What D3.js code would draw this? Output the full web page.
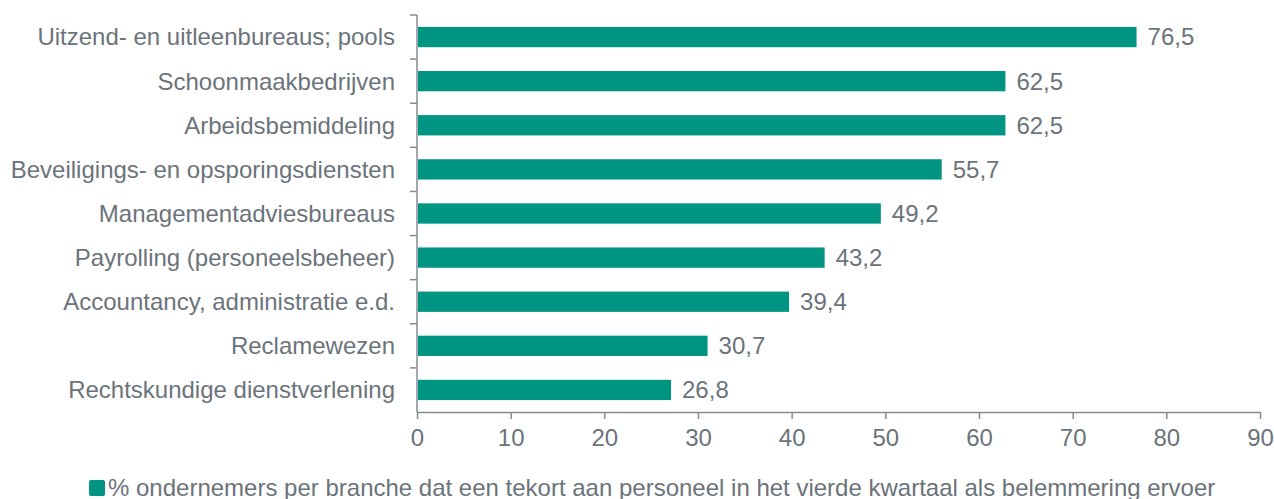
<!DOCTYPE html>
<html>
<head>
<meta charset="utf-8">
<script src="https://cdn.jsdelivr.net/npm/d3@7"></script>
<style>
  body { margin: 0; background: #fff; }
  svg { display: block; font-family: "Liberation Sans", Arial, sans-serif; }
</style>
</head>
<body>
<svg class="chart" width="1274" height="499"></svg>
<script>
// data
var categories = [
    "Uitzend- en uitleenbureaus; pools",
    "Schoonmaakbedrijven",
    "Arbeidsbemiddeling",
    "Beveiligings- en opsporingsdiensten",
    "Managementadviesbureaus",
    "Payrolling (personeelsbeheer)",
    "Accountancy, administratie e.d.",
    "Reclamewezen",
    "Rechtskundige dienstverlening"
];
var values = [76.5, 62.5, 62.5, 55.7, 49.2, 43.2, 39.4, 30.7, 26.8];
var xTicks = [0, 10, 20, 30, 40, 50, 60, 70, 80, 90];
var legendLabel = "% ondernemers per branche dat een tekort aan personeel in het vierde kwartaal als belemmering ervoer";

var barColor = "#009483";
var axisColor = "#858b93";
var textColor = "#6b737b";
var fontSize = "24px";

var canvas = d3.select(".chart");

// plot area
var plotLeft = 417, plotRight = 1260, plotTop = 15, plotBottom = 412;

var x = d3.scaleLinear().domain([0, 90]).range([plotLeft, plotRight]);
var y = d3.scaleBand().domain(categories).range([plotTop, plotBottom]).paddingInner(0.54).paddingOuter(0.27);

// bars
canvas.selectAll("rect.bar")
    .data(values)
    .enter().append("rect")
    .attr("class", "bar")
    .attr("x", x(0) + 1)
    .attr("y", function (d, i) { return y(categories[i]); })
    .attr("width", function (d) { return x(d) - x(0) + 2; })
    .attr("height", y.bandwidth())
    .attr("fill", barColor);

// value labels
canvas.selectAll("text.val")
    .data(values)
    .enter().append("text")
    .attr("class", "val")
    .attr("x", function (d) { return x(d) + 14; })
    .attr("y", function (d, i) { return y(categories[i]) + y.bandwidth() / 2; })
    .attr("dy", "0.35em")
    .attr("fill", textColor)
    .style("font-size", fontSize)
    .text(function (d) { return d.toFixed(1).replace(".", ","); });

// y axis: line with ticks on band boundaries
var step = (plotBottom - plotTop) / categories.length;
canvas.append("line")
    .attr("x1", plotLeft).attr("x2", plotLeft)
    .attr("y1", plotTop).attr("y2", plotBottom)
    .attr("stroke", axisColor).attr("stroke-width", 1.5);
d3.range(categories.length).forEach(function (i) {
    canvas.append("line")
        .attr("x1", plotLeft - 7).attr("x2", plotLeft)
        .attr("y1", plotTop + i * step).attr("y2", plotTop + i * step)
        .attr("stroke", axisColor).attr("stroke-width", 1.5);
});

// category labels
canvas.selectAll("text.cat")
    .data(categories)
    .enter().append("text")
    .attr("class", "cat")
    .attr("x", plotLeft - 22)
    .attr("y", function (d) { return y(d) + y.bandwidth() / 2; })
    .attr("dy", "0.35em")
    .attr("text-anchor", "end")
    .attr("fill", textColor)
    .style("font-size", fontSize)
    .text(function (d) { return d; });

// x axis
var xAxis = d3.axisBottom(x).tickValues(xTicks).tickSize(7).tickSizeOuter(0).tickPadding(10);
var xg = canvas.append("g")
    .attr("transform", "translate(0," + plotBottom + ")")
    .call(xAxis);
xg.select(".domain").attr("stroke", axisColor).attr("stroke-width", 1.5);
xg.selectAll(".tick line").attr("stroke", axisColor).attr("stroke-width", 1.5);
xg.selectAll(".tick text")
    .attr("fill", textColor)
    .style("font-size", fontSize)
    .style("font-family", "'Liberation Sans', Arial, sans-serif");

// legend
var legend = canvas.append("g").attr("transform", "translate(89,480)");
legend.append("rect")
    .attr("width", 16).attr("height", 16)
    .attr("rx", 2)
    .attr("fill", barColor);
legend.append("text")
    .attr("x", 19)
    .attr("y", 8)
    .attr("dy", "0.35em")
    .attr("fill", textColor)
    .style("font-size", fontSize)
    .text(legendLabel);
</script>
</body>
</html>
